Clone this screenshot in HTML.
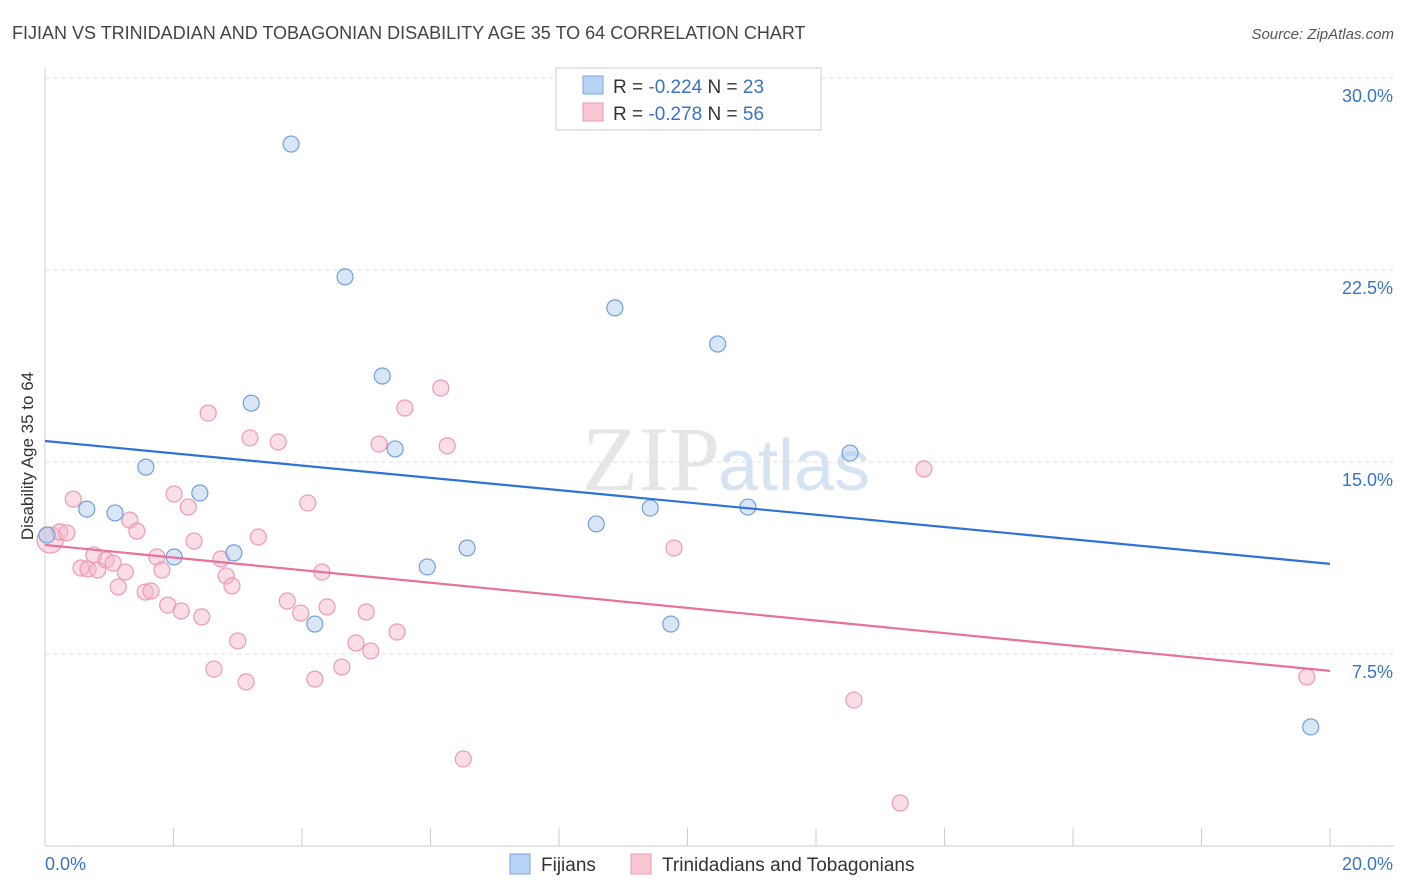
<!DOCTYPE html>
<html><head><meta charset="utf-8"><style>
body{margin:0;background:#fff;font-family:"Liberation Sans",sans-serif;}
</style></head><body>
<svg id="chart" width="1406" height="892" xmlns="http://www.w3.org/2000/svg" style="display:block">
<text x="12" y="39" font-size="18" fill="#444">FIJIAN VS TRINIDADIAN AND TOBAGONIAN DISABILITY AGE 35 TO 64 CORRELATION CHART</text>
<text x="1394" y="39" font-size="15" fill="#555" text-anchor="end" font-style="italic">Source: ZipAtlas.com</text>
<text x="720" y="490" font-size="92" fill="#e6e6e6" text-anchor="end" font-family="Liberation Serif">ZIP</text>
<text x="718" y="490" font-size="72" fill="#d5e3f3">atlas</text>
<g id="grid"></g>
<g id="axes"></g>
<g id="marks"></g>
<text transform="translate(33,456) rotate(-90)" font-size="17" fill="#333" text-anchor="middle">Disability Age 35 to 64</text>
<g>
<rect x="556" y="68" width="265" height="62" fill="#fff" stroke="#ccc"/>
<rect x="583" y="76" width="20" height="18" fill="#b9d3f5" stroke="#7aa5e0"/>
<rect x="583" y="103" width="20" height="18" fill="#f9c6d4" stroke="#e99ab1"/>
<text x="613" y="93" font-size="19" fill="#333">R = <tspan fill="#3a72c8">-0.224</tspan>   N = <tspan fill="#3a72c8">23</tspan></text>
<text x="613" y="120" font-size="19" fill="#333">R = <tspan fill="#3a72c8">-0.278</tspan>   N = <tspan fill="#3a72c8">56</tspan></text>
</g>
<g>
<rect x="510" y="854" width="20" height="20" fill="#b9d3f5" stroke="#7aa5e0"/>
<text x="541" y="871" font-size="19" fill="#333">Fijians</text>
<rect x="631" y="854" width="20" height="20" fill="#f9c6d4" stroke="#e99ab1"/>
<text x="662" y="871" font-size="19" fill="#333">Trinidadians and Tobagonians</text>
</g>
</svg>
<script>
const blueX=[0.03,0.65,1.09,1.57,2.01,2.41,2.94,3.21,3.83,4.20,4.67,5.25,5.45,5.95,6.57,8.58,8.87,9.42,9.74,10.47,10.94,12.53,19.70];
const blueY=[12.15,13.16,13.01,14.80,11.29,13.79,11.45,17.30,27.42,8.67,22.23,18.36,15.51,10.90,11.64,12.58,21.02,13.20,8.67,19.61,13.24,15.35,4.65];
const pinkX=[0.08,0.23,0.34,0.44,0.56,0.67,0.76,0.82,0.95,1.06,1.14,1.25,1.32,1.43,1.56,1.65,1.74,1.82,1.91,2.01,2.12,2.23,2.32,2.44,2.54,2.63,2.74,2.82,2.91,3.00,3.13,3.19,3.32,3.63,3.77,3.98,4.09,4.20,4.31,4.39,4.62,4.84,5.00,5.07,5.20,5.48,5.60,6.16,6.26,6.51,9.79,12.59,13.31,13.68,19.64];
const pinkY=[11.95,12.27,12.23,13.55,10.86,10.82,11.37,10.78,11.17,11.05,10.12,10.70,12.73,12.30,9.92,9.96,11.29,10.78,9.41,13.75,9.18,13.24,11.91,8.95,16.91,6.91,11.21,10.55,10.16,8.01,6.41,15.94,12.07,15.78,9.57,9.10,13.40,6.52,10.70,9.34,6.99,7.93,9.14,7.62,15.70,8.36,17.11,17.89,15.63,3.40,11.64,5.70,1.68,14.73,6.60];
const blueTrend=[15.82,11.02];
const pinkTrend=[11.76,6.84];
const yTicks=[7.5,15,22.5,30];
const yTickLabels=["7.5%","15.0%","22.5%","30.0%"];
const xTicks=[0,2,4,6,8,10,12,14,16,18,20];

const NS="http://www.w3.org/2000/svg";
const X=v=>45+v/20*1285;
const Y=v=>846-v*25.6;
function mk(parent,tag,attrs){const e=document.createElementNS(NS,tag);for(const k in attrs)e.setAttribute(k,attrs[k]);document.getElementById(parent).appendChild(e);return e;}

yTicks.forEach((t,i)=>{
  let l=mk('grid','line',{x1:45,x2:1394,y1:Y(t),y2:Y(t),stroke:'#ddd','stroke-dasharray':'4,4'});
  
  
  let tx=mk('grid','text',{x:1393,y:Y(t)+24,'font-size':18,fill:'#3a72c8','text-anchor':'end'});
  tx.textContent=yTickLabels[i];
  
  
});
let la=mk('axes','line',{x1:45,x2:45,y1:68,y2:846,stroke:'#ccc'});


let ba=mk('axes','line',{x1:45,x2:1394,y1:846,y2:846,stroke:'#ccc'});


xTicks.forEach(t=>{
  let l=mk('axes','line',{x1:X(t),x2:X(t),y1:828,y2:846,stroke:'#ccc'});
  
  
});
let x0=mk('axes','text',{x:45,y:870,'font-size':18,fill:'#3a72c8'});x0.textContent='0.0%';


let x1=mk('axes','text',{x:1393,y:870,'font-size':18,fill:'#3a72c8','text-anchor':'end'});x1.textContent='20.0%';



pinkX.forEach((v,i)=>{
  let c=mk('marks','circle',{cx:X(v),cy:Y(pinkY[i]),r:i==0?13:8,fill:'rgba(247,180,200,0.45)',stroke:'#eb9bb4','stroke-width':1.2});
  
  
});
blueX.forEach((v,i)=>{
  let c=mk('marks','circle',{cx:X(v),cy:Y(blueY[i]),r:8,fill:'rgba(170,200,240,0.45)',stroke:'#6f9fdc','stroke-width':1.2});
  
  
});
let bt=mk('marks','line',{x1:X(0),x2:X(20),y1:Y(blueTrend[0]),y2:Y(blueTrend[1]),stroke:'#2f72d6','stroke-width':2.2});


let pt=mk('marks','line',{x1:X(0),x2:X(20),y1:Y(pinkTrend[0]),y2:Y(pinkTrend[1]),stroke:'#e8709a','stroke-width':2.2});


</script>
</body></html>
